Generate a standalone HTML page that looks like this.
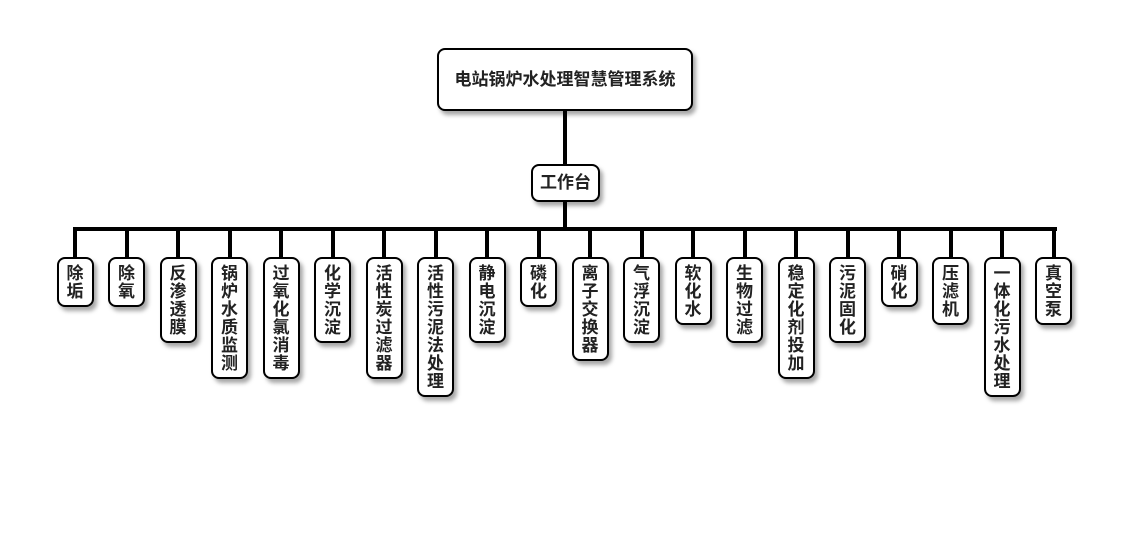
<!DOCTYPE html>
<html><head><meta charset="utf-8"><style>
body{margin:0;width:1130px;height:560px;background:#fff;position:relative;overflow:hidden;font-family:"Liberation Sans","Noto Sans CJK SC",sans-serif;}
.b{position:absolute;background:#fff;border:2px solid #000;border-radius:8px;box-sizing:border-box;box-shadow:3px 4px 4px rgba(0,0,0,0.35);font-weight:bold;color:#222;text-align:center;font-size:17px;}
.l{position:absolute;background:#000;}
.v{width:20px;margin:0 auto;line-height:18px;word-break:break-all;padding-top:6px;}
</style></head><body>
<div class="b" style="left:437px;top:48px;width:256px;height:63px;line-height:59px;">电站锅炉水处理智慧管理系统</div>
<div class="l" style="left:563px;top:111px;width:4px;height:53px"></div>
<div class="b" style="left:531px;top:164px;width:69px;height:38px;line-height:34px;">工作台</div>
<div class="l" style="left:563px;top:201px;width:4px;height:28px"></div>
<div class="l" style="left:73px;top:227px;width:984px;height:4px"></div>
<div id="c"></div>
<script>
var t=["除垢","除氧","反渗透膜","锅炉水质监测","过氧化氯消毒","化学沉淀","活性炭过滤器","活性污泥法处理","静电沉淀","磷化","离子交换器","气浮沉淀","软化水","生物过滤","稳定化剂投加","污泥固化","硝化","压滤机","一体化污水处理","真空泵"];
var h="";
for(var i=0;i<t.length;i++){var cx=75+51.5*i;var n=t[i].length;
h+='<div class="l" style="left:'+(cx-2)+'px;top:229px;width:4px;height:28px"></div>';
h+='<div class="b" style="left:'+(cx-18.5)+'px;top:257px;width:37px;height:'+(n*18+14)+'px;"><div class="v">'+t[i]+'</div></div>';}
document.getElementById("c").innerHTML=h;
</script>
</body></html>
